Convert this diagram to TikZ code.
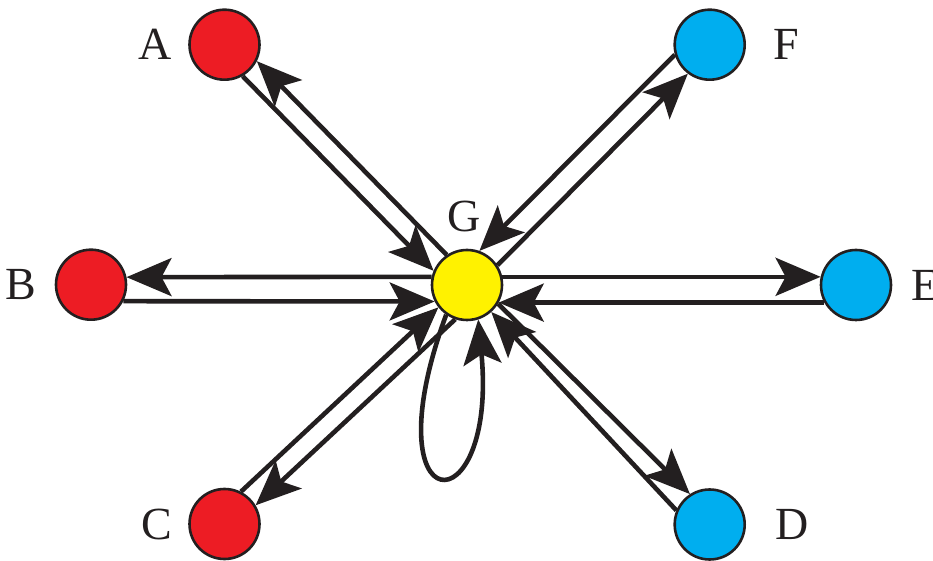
\documentclass[tikz,border=0pt]{standalone}
\usepackage{fontspec}
\setmainfont{Liberation Serif}
\usepackage{tikz}
\usetikzlibrary{arrows.meta, positioning}
\definecolor{ink}{HTML}{231F20}
\definecolor{srcred}{HTML}{ED1C24}
\definecolor{sinkblue}{HTML}{00AEEF}
\definecolor{hubyellow}{HTML}{FFF200}
\tikzset{
  vertex/.style={circle, draw=ink, line width=1.3pt, minimum size=35pt, inner sep=0pt},
  lbl/.style={inner sep=0pt, text=ink, font=\fontsize{23}{23}\selectfont},
  flow/.style={line width=2.3pt, draw=ink, -{Stealth[length=22.5pt, width=19pt, inset=5pt]}}
}

\begin{document}
\begin{tikzpicture}[x=0.5pt, y=-0.5pt]
		\useasboundingbox (0,0) rectangle (933,561);
		% vertices
		\node[vertex, fill=srcred] (A) at (224.5,44.7) {};
		\node[vertex, fill=srcred] (B) at (91,284.7) {};
		\node[vertex, fill=srcred] (C) at (224.5,524) {};
		\node[vertex, fill=sinkblue] (D) at (709.7,524.5) {};
		\node[vertex, fill=sinkblue] (E) at (856,285) {};
		\node[vertex, fill=sinkblue] (F) at (709.7,44.7) {};
		\node[vertex, fill=hubyellow] (G) at (467,285) {};
		% labels
		\node[lbl, left=8pt of A] (labA) {A};
		\node[lbl, left=9pt of B] (labB) {B};
		\node[lbl, left=8pt of C] (labC) {C};
		\node[lbl, right=14.5pt of D] (labD) {D};
		\node[lbl, right=9.5pt of E] (labE) {E};
		\node[lbl, right=13.5pt of F] (labF) {F};
		\node[lbl, above=8pt of G, xshift=-1.5pt] (labG) {G};
		% paired flows
		\foreach \s/\t in {G.167/B.12, B.-27/G.207, G.13/E.167, E.209/G.-29,
		                   A.-60/G.157, G.124/A.-27, F.196/G.70, G.33/F.233,
		                   C.63/G.218, G.251/C.31, G.-31/D.123, D.157/G.-48}
			\draw[flow] (\s) -- (\t);
		% self loop
		\draw[flow] (G.235) .. controls +(-78,212) and +(20,210) .. (G.288);
	\end{tikzpicture}
\end{document}
